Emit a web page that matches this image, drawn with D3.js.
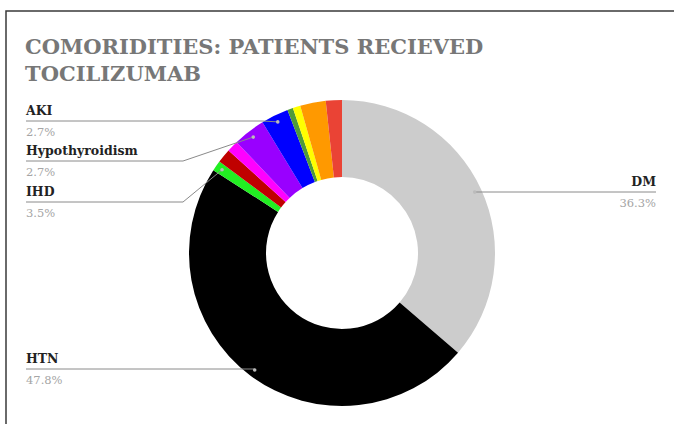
<!DOCTYPE html>
<html>
<head>
<meta charset="utf-8">
<script src="https://cdn.jsdelivr.net/npm/d3@7"></script>
<style>
  body { margin: 0; background: #fff; }
  svg { display: block; }
</style>
</head>
<body>
<svg></svg>
<script>
// Slices, clockwise from 12 o'clock
var slice_names  = ["DM", "HTN", "IHD", "S4", "S5", "Hypothyroidism", "AKI", "S8", "S9", "S10", "S11"];
var slice_values = [36.3, 47.8, 1.1, 1.5, 1.2, 3.4, 2.9, 0.6, 0.8, 2.7, 1.7];
var slice_colors = ["#cccccc", "#000000", "#22ee22", "#c00000", "#ff00ff", "#9900ff",
                    "#0000ff", "#4f9a3a", "#ffff00", "#ff9900", "#ea4335"];

// Labels shown on the chart
var label_names = ["DM", "HTN", "IHD", "Hypothyroidism", "AKI"];
var label_texts = ["36.3%", "47.8%", "3.5%", "2.7%", "2.7%"];

var title_lines = ["COMORIDITIES: PATIENTS RECIEVED", "TOCILIZUMAB"];

var width = 674, height = 424;
var cx = 342, cy = 253, outerR = 153, innerR = 76, dotR = 146;

var svg = d3.select("svg")
	.attr("width", width)
	.attr("height", height);

// frame
svg.append("path")
	.attr("d", "M6," + height + "L6,11L" + width + ",11")
	.attr("fill", "none")
	.attr("stroke", "#3a3a3a")
	.attr("stroke-width", 1.5);

// title
svg.append("g")
	.selectAll("text")
	.data(title_lines)
	.enter().append("text")
		.attr("x", 25)
		.attr("y", function(d, i) { return 54 + i * 27; })
		.attr("font-family", "DejaVu Serif")
		.attr("font-weight", "bold")
		.attr("font-size", "21px")
		.attr("fill", "#777777")
		.text(function(d) { return d; });

// donut
var pie = d3.pie().sort(null).value(function(d) { return d; });
var arcs = pie(slice_values);
var arc = d3.arc().innerRadius(innerR).outerRadius(outerR);
var dotArc = d3.arc().innerRadius(dotR).outerRadius(dotR);

var g = svg.append("g")
	.attr("transform", "translate(" + cx + "," + cy + ")");

g.selectAll("path")
	.data(arcs)
	.enter().append("path")
		.attr("d", arc)
		.attr("fill", function(d, i) { return slice_colors[i]; });

// label layout: side, line y, elbow x (null = straight to dot)
var label_layout = {
	"DM":             { side: "right", lineY: 192, elbowX: null },
	"HTN":            { side: "left",  lineY: 369, elbowX: null },
	"IHD":            { side: "left",  lineY: 202, elbowX: 183 },
	"Hypothyroidism": { side: "left",  lineY: 161, elbowX: 183 },
	"AKI":            { side: "left",  lineY: 121, elbowX: 262 }
};

var labels = svg.append("g");

label_names.forEach(function(name, k) {
	var i = slice_names.indexOf(name);
	var c = dotArc.centroid(arcs[i]);
	var dot = [cx + c[0], cy + c[1]];
	var lay = label_layout[name];
	var textX = lay.side === "left" ? 26 : 656;
	var anchor = lay.side === "left" ? "start" : "end";
	var ex = lay.elbowX === null ? dot[0] : lay.elbowX;

	labels.append("path")
		.attr("d", d3.line()([[textX, lay.lineY], [ex, lay.lineY], dot]))
		.attr("fill", "none")
		.attr("stroke", "#8a8a8a")
		.attr("stroke-width", 1);

	labels.append("circle")
		.attr("cx", dot[0])
		.attr("cy", dot[1])
		.attr("r", 1.8)
		.attr("fill", "#bbbbbb");

	labels.append("text")
		.attr("x", textX)
		.attr("y", lay.lineY - 6)
		.attr("text-anchor", anchor)
		.attr("font-family", "DejaVu Serif")
		.attr("font-weight", "bold")
		.attr("font-size", "12.5px")
		.attr("fill", "#222222")
		.text(name);

	labels.append("text")
		.attr("x", textX)
		.attr("y", lay.lineY + 15)
		.attr("text-anchor", anchor)
		.attr("font-family", "DejaVu Serif")
		.attr("font-size", "11.5px")
		.attr("fill", "#a5a5a5")
		.text(label_texts[k]);
});
</script>
</body>
</html>
